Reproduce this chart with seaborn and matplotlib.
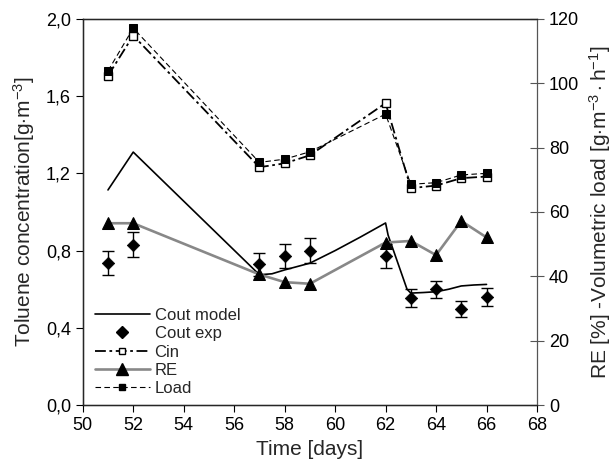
import matplotlib
matplotlib.use("Agg")
import matplotlib.pyplot as plt
import seaborn as sns
import numpy as np
from matplotlib.ticker import FixedLocator, FuncFormatter
from matplotlib.lines import Line2D

# ---------------- data ----------------
model_t = [51, 52, 57, 57.5, 58, 59, 60, 61, 62, 62.1, 62.85, 63, 63.5, 64, 64.5, 65, 65.5, 66]
model_c = [1.114, 1.31, 0.675, 0.68, 0.70, 0.735, 0.80, 0.87, 0.943, 0.88, 0.60, 0.58, 0.583, 0.587, 0.60, 0.617, 0.622, 0.625]

exp_t = [51, 52, 57, 58, 59, 62, 63, 64, 65, 66]
exp_c = [0.736, 0.83, 0.729, 0.772, 0.80, 0.772, 0.554, 0.60, 0.497, 0.56]
exp_err = [0.06, 0.065, 0.06, 0.06, 0.065, 0.06, 0.045, 0.045, 0.04, 0.045]

days = [51, 52, 57, 58, 59, 62, 63, 64, 65, 66]
cin = [102.3, 114.8, 73.9, 75.1, 77.6, 93.8, 67.4, 68.2, 70.5, 71.0]
re = [56.5, 56.5, 40.6, 38.2, 37.7, 50.5, 51.0, 46.6, 57.2, 52.1]
load = [103.8, 117.1, 75.4, 76.4, 78.7, 90.4, 68.6, 69.1, 71.5, 72.0]

left_ticks = [0.0, 0.4, 0.8, 1.2, 1.6, 2.0]
right_ticks = [0, 20, 40, 60, 80, 100, 120]
x_ticks = [50, 52, 54, 56, 58, 60, 62, 64, 66, 68]

# ---------------- style ----------------
sns.set_style("ticks")
plt.rcParams['font.family'] = ['Liberation Sans', 'DejaVu Sans']
plt.rcParams['mathtext.fontset'] = 'custom'
plt.rcParams['mathtext.rm'] = 'Liberation Sans'
plt.rcParams['mathtext.it'] = 'Liberation Sans'

fig, ax = plt.subplots(figsize=(6.13, 4.70), dpi=100)
fig.subplots_adjust(left=0.135, right=0.876, top=0.960, bottom=0.138)
ax2 = ax.twinx()

# left axis: Cout model and exp
sns.lineplot(x=model_t, y=model_c, ax=ax, color='black', lw=1.2, estimator=None, sort=False)
ax.errorbar(exp_t, exp_c, yerr=exp_err, fmt='none', ecolor='black', elinewidth=1.0, capsize=4, capthick=1.0)
sns.scatterplot(x=exp_t, y=exp_c, ax=ax, marker='D', color='black', s=40, edgecolor='black', zorder=5)

# right axis
sns.lineplot(x=days, y=re, ax=ax2, color='#888888', lw=1.9, estimator=None, sort=False,
             marker='^', markersize=8, markerfacecolor='black', markeredgecolor='black')
sns.lineplot(x=days, y=cin, ax=ax2, color='black', lw=1.3, estimator=None, sort=False,
             dashes=False, linestyle=(0, (6, 2, 1.5, 2)),
             marker='s', markersize=6, markerfacecolor='white', markeredgecolor='black', markeredgewidth=1.0)
sns.lineplot(x=days, y=load, ax=ax2, color='black', lw=0.8, estimator=None, sort=False,
             dashes=False, linestyle=(0, (5, 3)),
             marker='s', markersize=6, markerfacecolor='black', markeredgecolor='black')

# axes limits/ticks
ax.set_xlim(50, 68)
ax.set_ylim(0, 2.0)
ax2.set_ylim(0, 120)
ax.xaxis.set_major_locator(FixedLocator(x_ticks))
ax.yaxis.set_major_locator(FixedLocator(left_ticks))
ax2.yaxis.set_major_locator(FixedLocator(right_ticks))
ax.yaxis.set_major_formatter(FuncFormatter(lambda v, p: f"{v:.1f}".replace('.', ',')))
ax2.yaxis.set_major_formatter(FuncFormatter(lambda v, p: f"{int(v)}"))

ax.tick_params(axis='both', labelsize=13, direction='out', length=5, width=0.8, colors='black')
ax2.tick_params(axis='y', labelsize=13, direction='inout', length=10, width=0.8, color='#555555', labelcolor='black')

for s in ['top', 'left', 'bottom']:
    ax.spines[s].set_visible(True)
    ax.spines[s].set_color('black')
    ax.spines[s].set_linewidth(1.0)
ax2.spines['right'].set_visible(True)
ax2.spines['right'].set_color('#555555')
ax2.spines['top'].set_visible(True)

ax.set_xlabel("Time [days]", fontsize=15, labelpad=4)
ax.set_ylabel(r"Toluene concentration[g$\cdot$m$^{\mathrm{-3}}$]", fontsize=15, labelpad=6)
ax2.set_ylabel(r"RE [%] -Volumetric load [g$\cdot$m$^{\mathrm{-3}}\cdot$h$^{\mathrm{-1}}$]", fontsize=15, labelpad=6)

handles = [
    Line2D([], [], color='black', lw=1.2),
    Line2D([], [], color='black', lw=0, marker='D', markersize=6),
    Line2D([], [], color='black', lw=1.3, linestyle=(0, (6, 2, 1.5, 2)), marker='s', markersize=5,
           markerfacecolor='white'),
    Line2D([], [], color='#888888', lw=1.9, marker='^', markersize=8, markerfacecolor='black',
           markeredgecolor='black'),
    Line2D([], [], color='black', lw=0.8, linestyle=(0, (5, 3)), marker='s', markersize=5,
           markerfacecolor='black'),
]
labels = ["Cout model", "Cout exp", "Cin", "RE", "Load"]
ax2.legend(handles, labels, loc='lower left', bbox_to_anchor=(0.026, 0.023), frameon=False,
           fontsize=12, handlelength=3.3, labelspacing=0.2, handletextpad=0.3,
           borderaxespad=0, borderpad=0)

fig.savefig("out.png", dpi=100)
